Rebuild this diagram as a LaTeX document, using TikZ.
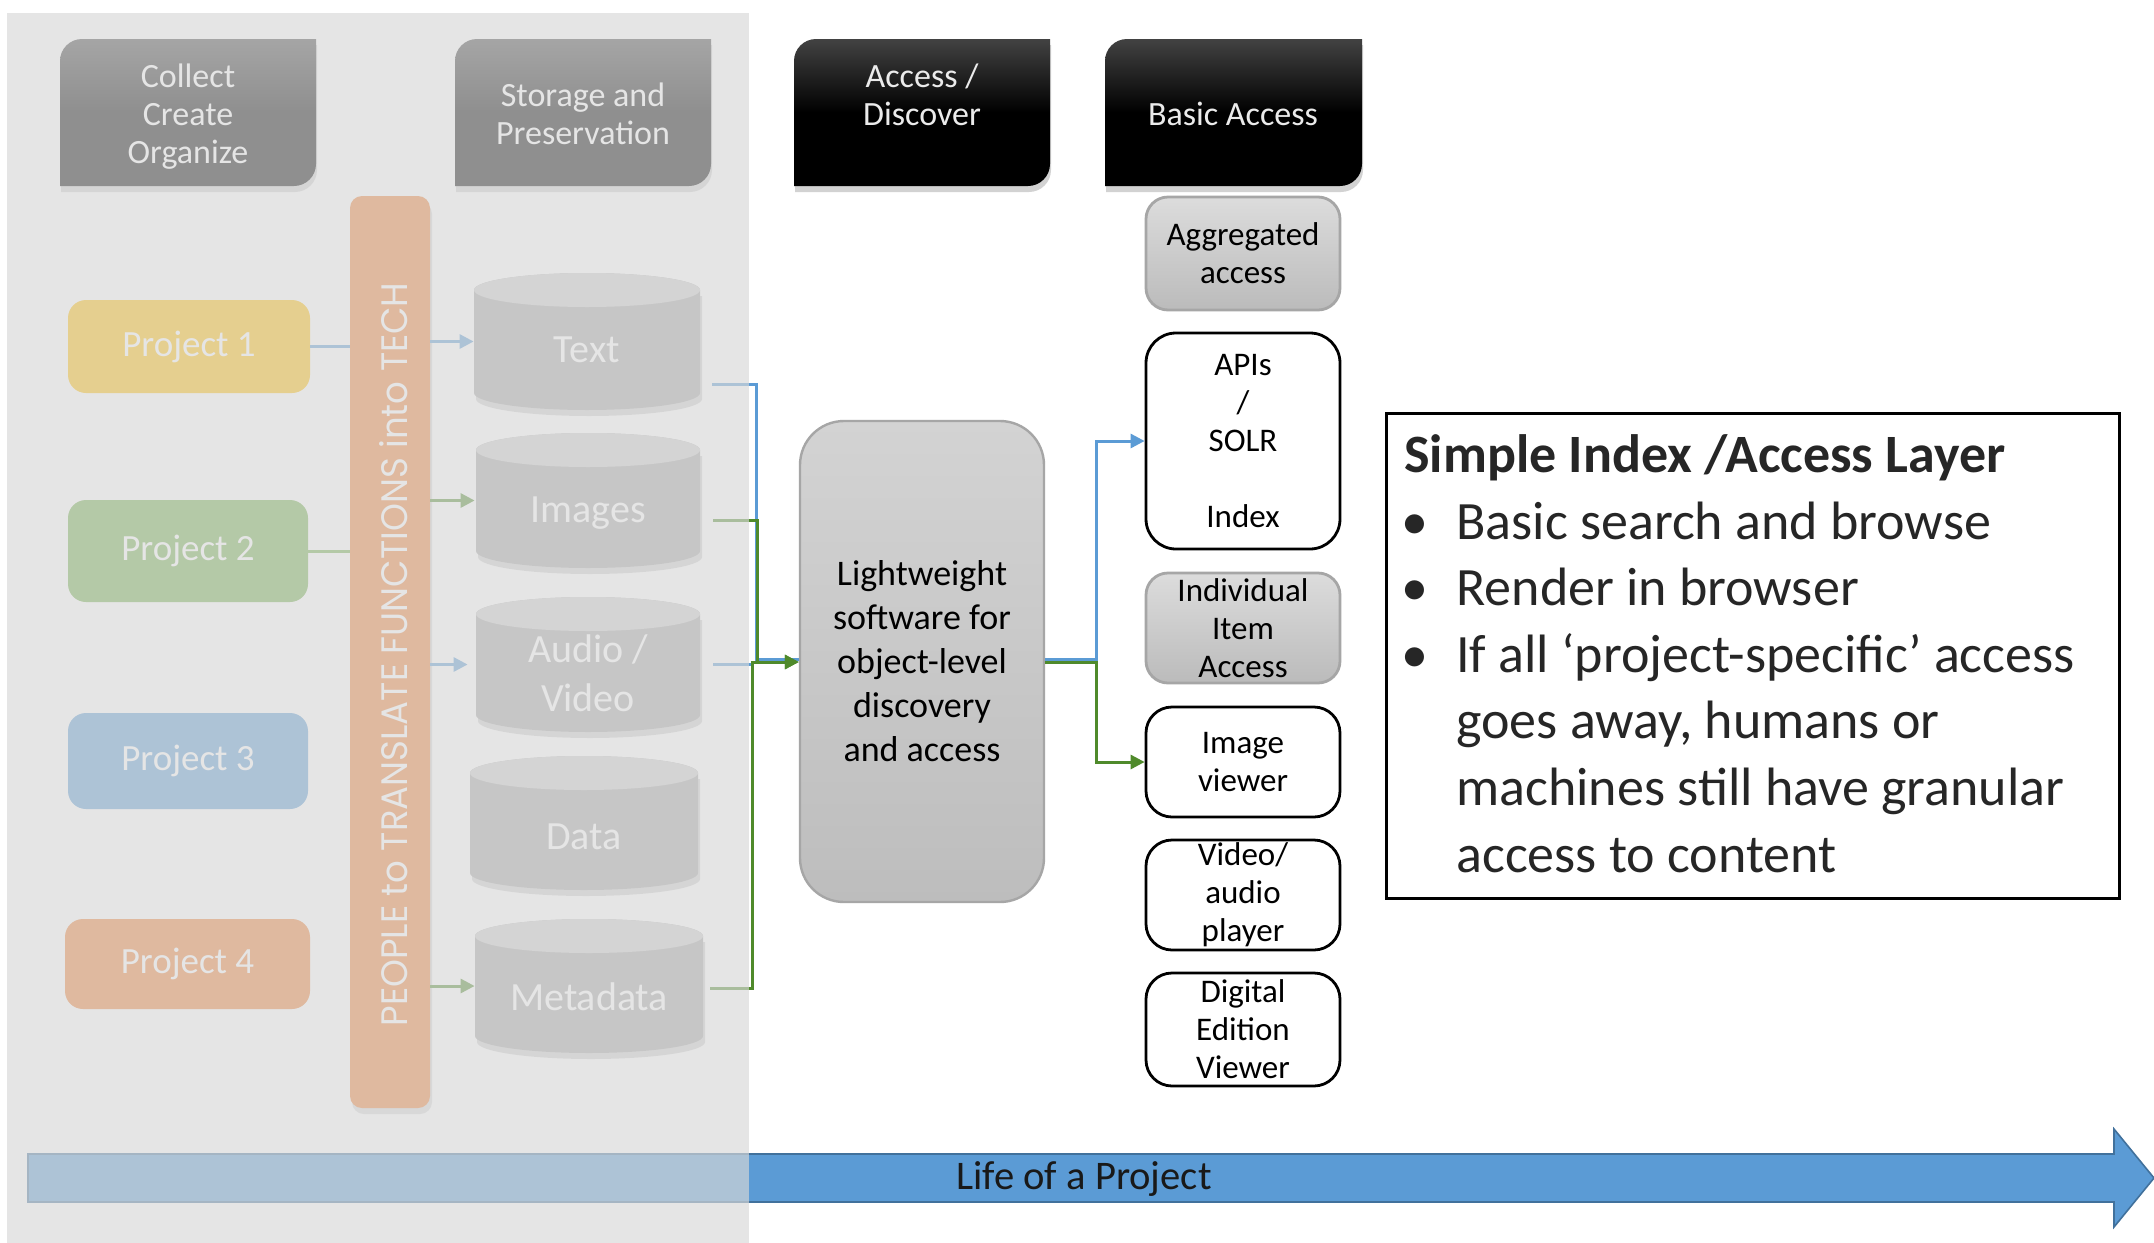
\documentclass[tikz,border=0pt]{standalone}
\usepackage{fontspec}
\setmainfont{Carlito}
\newfontfamily\barfont{Poppins}
\usepackage{graphicx}
\usetikzlibrary{arrows.meta,shadows,calc}
\definecolor{gold}{HTML}{FFC000}
\definecolor{ogreen}{HTML}{70AD47}
\definecolor{dgreen}{HTML}{4F8A2B}
\definecolor{oblue}{HTML}{5B9BD5}
\definecolor{oorange}{HTML}{ED7D31}
\definecolor{cylbody}{HTML}{A5A5A5}
\definecolor{cyltop}{HTML}{CDCDCD}
\definecolor{panelc}{HTML}{D8D8D8}
\definecolor{arrowedge}{HTML}{41719C}
\definecolor{boxedge}{HTML}{A6A6A6}
\definecolor{lwtop}{HTML}{D3D3D3}
\definecolor{lwbot}{HTML}{BDBDBD}
\definecolor{gboxtop}{HTML}{DCDCDC}
\definecolor{gboxbot}{HTML}{BBBBBB}

\newcommand\hdrshape[3]{%
  \path[#3] (#1,-186) -- (#1,-61) arc[start angle=180,end angle=90,radius=22] -- (#2,-39) -- (#2,-164) arc[start angle=0,end angle=-90,radius=22] -- cycle;}

\newcommand\cyldraw[4]{%
  \pgfmathsetmacro\cxc{(#1+#2)/2}%
  \pgfmathsetmacro\crx{(#2-#1)/2}%
  \fill[black,opacity=0.18] (#1+2,-#3-23) -- (#1+2,-#4+11) arc[start angle=180,end angle=360,x radius=\crx,y radius=17] -- (#2+2,-#3-23) -- cycle;
  \fill[cylbody] (#1,-#3-17) -- (#1,-#4+17) arc[start angle=180,end angle=360,x radius=\crx,y radius=17] -- (#2,-#3-17) arc[start angle=0,end angle=180,x radius=\crx,y radius=17] -- cycle;
  \fill[cyltop] (\cxc,-#3-17) ellipse[x radius=\crx,y radius=17];}

\begin{document}
\begin{tikzpicture}[x=0.5pt,y=0.5pt,
  hdrtext/.style={text=white, align=center, inner sep=0pt, font=\fontsize{17}{19}\selectfont},
  hdrfill/.style={top color=black!74, bottom color=black, middle color=black, drop shadow={shadow xshift=0.5pt, shadow yshift=-3pt, opacity=0.35}},
  proj/.style={rounded corners=9pt, text=white, inner sep=0pt, font=\fontsize{18.5}{22}\selectfont},
  cylnode/.style={inner sep=0pt, minimum width=113pt, minimum height=67.5pt},
  cyllab/.style={text=white, align=center, inner sep=0pt, font=\fontsize{20}{24.5}\selectfont},
  flow/.style={line width=1.5pt},
  endtip/.style={-{Triangle[length=7pt,width=7pt]}},
  wbox/.style={draw=black, line width=1.4pt, fill=white, rounded corners=13pt, minimum width=97pt, inner sep=0pt, align=center, font=\fontsize{16.5}{19}\selectfont},
  gbox/.style={draw=boxedge, line width=1.4pt, top color=gboxtop, bottom color=gboxbot, rounded corners=11pt, minimum width=97pt, inner sep=0pt, align=center, font=\fontsize{16.5}{19}\selectfont},
  lwbox/.style={rounded corners=22pt, draw=boxedge, line width=1.2pt, top color=lwtop, bottom color=lwbot, minimum width=122pt, minimum height=240.5pt, inner sep=0pt, align=center, font=\fontsize{18}{22}\selectfont}
]
\useasboundingbox (0,0) rectangle (2154,-1243);
\fill[white] (0,0) rectangle (2154,-1243);

% headers
\hdrshape{60}{316}{hdrfill}
\node[hdrtext] (hcollect) at (188,-117) {Collect\\Create\\Organize};
\hdrshape{455}{711}{hdrfill}
\node[hdrtext] (hstore) at (583,-114) {Storage and\\Preservation};
\hdrshape{794}{1050}{hdrfill}
\node[hdrtext, text=white!92!black] (hacc) at (922,-95) {Access /\\Discover};
\hdrshape{1105}{1362}{hdrfill}
\node[hdrtext, text=white!92!black] (hbasic) at (1233,-114) {Basic Access};

% projects
\node[proj, fill=gold, minimum width=121pt, minimum height=46.5pt] (p1) at (189,-346.5) {Project 1};
\node[proj, fill=ogreen, minimum width=120pt, minimum height=51pt] (p2) at (188,-551) {Project 2};
\node[proj, fill=oblue, minimum width=120pt, minimum height=48pt] (p3) at (188,-761) {Project 3};
\node[proj, fill=oorange, minimum width=122.5pt, minimum height=45pt] (p4) at (187.5,-964) {Project 4};

% translate bar
\node[fill=oorange, rounded corners=6pt, minimum width=40pt, minimum height=456pt, inner sep=0pt, drop shadow={shadow xshift=1pt, shadow yshift=-3pt, opacity=0.3}] (bar) at (390,-652) {};
\node[rotate=90, text=white, inner sep=0pt] (bartxt) at (393.5,-654.5) {\resizebox{372pt}{14pt}{\barfont PEOPLE to TRANSLATE FUNCTIONS into TECH}};

% cylinders
\cyldraw{474}{700}{273}{410}
\node[cylnode, minimum height=68.5pt, label={[cyllab, yshift=-4.25pt]center:Text}] (ctext) at (587,-341.5) {};
\cyldraw{476}{700}{433}{568}
\node[cylnode, label={[cyllab, yshift=-6.25pt]center:Images}] (cimg) at (588,-500.5) {};
\cyldraw{476}{700}{597}{732}
\node[cylnode, label={[cyllab, yshift=-4.5pt]center:{Audio /\\Video}}] (caud) at (588,-664.5) {};
\cyldraw{470}{698}{756}{890}
\node[cylnode, minimum width=114pt, minimum height=67pt, label={[cyllab, yshift=-7pt]center:Data}] (cdata) at (584,-823) {};
\cyldraw{475}{703}{919}{1053}
\node[cylnode, minimum width=114pt, minimum height=67pt, label={[cyllab, yshift=-5.5pt]center:Metadata}] (cmeta) at (589,-986) {};

% left connectors
\draw[flow, oblue] (p1.east) -- (p1.east -| bar.west);
\draw[flow, ogreen] (p2.east) -- (p2.east -| bar.west);
\draw[flow, oblue, endtip] (bar.east |- ctext.west) -- (ctext.west);
\draw[flow, dgreen, endtip] (bar.east |- cimg.west) -- (cimg.west);
\draw[flow, oblue, endtip] (bar.east |- caud.west) -- ([xshift=-3.5pt]caud.west);
\draw[flow, dgreen, endtip] (bar.east |- cmeta.west) -- (cmeta.west);

% lightweight
\node[lwbox] (lw) at (922,-661.5) {Lightweight\\software for\\object-level\\discovery\\and access};

\draw[flow, oblue] ([xshift=6pt,yshift=-21.25pt]ctext.east) -- ++(44,0) |- ([yshift=1pt]lw.west);
\draw[flow, oblue] ([xshift=6pt]caud.east) -- ++(40,0);
\draw[flow, dgreen, endtip] ([xshift=6pt,yshift=-9.75pt]cimg.east) -- ++(44,0) |- ([yshift=-0.25pt]lw.west);
\draw[flow, dgreen, endtip] ([xshift=3.5pt,yshift=-1pt]cmeta.east) -- ++(42,0) |- ([yshift=-0.25pt]lw.west);

% right column
\node[gbox, minimum height=56.5pt] (agg) at (1243,-253.5) {Aggregated\\access};
\node[wbox, rounded corners=15pt, minimum height=108pt] (apis) at (1243,-441) {APIs\\/\\SOLR\\\mbox{}\\Index};
\node[gbox, minimum height=55pt] (indiv) at (1243,-628) {Individual\\Item\\Access};
\node[wbox, minimum height=55pt] (imgv) at (1243,-762) {Image\\viewer};
\node[wbox, minimum height=55pt] (vid) at (1243,-895) {Video/\\audio\\player};
\node[wbox, minimum height=56.5pt] (dig) at (1243,-1029.5) {Digital\\Edition\\Viewer};

\draw[flow, oblue, endtip] ([yshift=1.25pt]lw.east) -- ++(51,0) |- (apis.west);
\draw[flow, dgreen, endtip] ([yshift=-0.5pt]lw.east) -- ++(51,0) |- (imgv.west);

% note box
\node[draw=black, line width=1.5pt, minimum width=366.5pt, minimum height=242.5pt, inner sep=0pt] (note) at (1752.5,-655.5) {};
\node[anchor=base west, align=left, inner sep=0pt, text=black!85, font=\fontsize{27}{33.3}\selectfont] (notetxt) at (1404,-872) {{\bfseries Simple Index /Access Layer}\\
\makebox[26pt][l]{\hspace{-1.5pt}\textbullet}Basic search and browse\\
\makebox[26pt][l]{\hspace{-1.5pt}\textbullet}Render in browser\\
\makebox[26pt][l]{\hspace{-1.5pt}\textbullet}If all ‘project-specific’ access\\
\hspace*{26pt}goes away, humans or\\
\hspace*{26pt}machines still have granular\\
\hspace*{26pt}access to content};

% life of a project arrow
\path[fill=oblue, draw=arrowedge, line width=0.8pt] (28,-1154) -- (2114,-1154) -- (2114,-1129) -- (2154,-1178) -- (2114,-1227) -- (2114,-1202) -- (28,-1202) -- cycle;

% fading panel
\fill[panelc, opacity=0.663] (7,-13) rectangle (749,-1243);

\node[font=\fontsize{20.3}{24}\selectfont, text=black!90, inner sep=0pt] (life) at (1084,-1179) {Life of a Project};
\end{tikzpicture}
\end{document}
